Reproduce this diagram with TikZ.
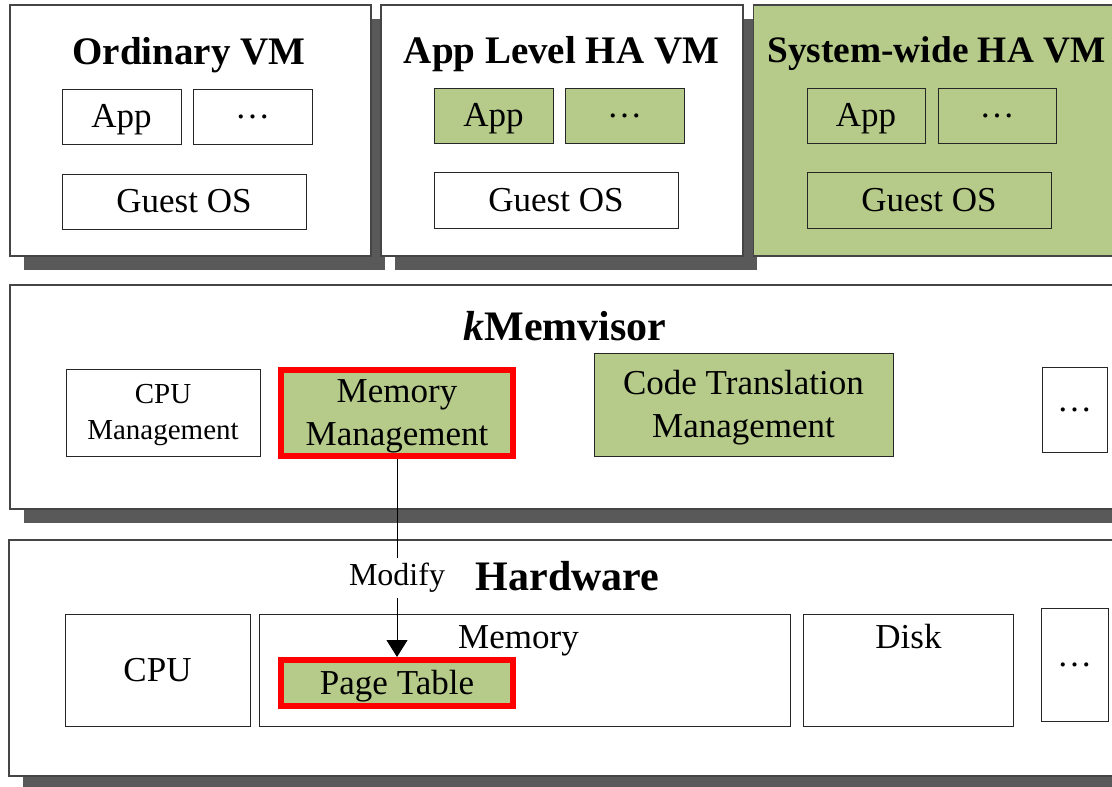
\documentclass[tikz,border=0pt]{standalone}
\usepackage{fontspec}
\setmainfont{Liberation Serif}
\usetikzlibrary{arrows.meta,shadows}
\newlength\pxu
\setlength\pxu{0.75pt}
\definecolor{hagreen}{HTML}{B6CB89}
\definecolor{shadowgray}{HTML}{595959}
\definecolor{framegray}{HTML}{454545}

\tikzset{
  layer/.style={draw=framegray, line width=1.3\pxu, fill=white, inner sep=0pt},
  deep/.style={drop shadow={shadow xshift=14\pxu, shadow yshift=-14\pxu, opacity=1, fill=shadowgray}},
  cell/.style={draw=black!85, line width=1\pxu, fill=white, inner sep=0pt,
               font=\fontsize{26.25}{32.25}\selectfont, align=center},
  oneline/.style={text height=23.6pt, text depth=6.6pt},
  ha/.style={fill=hagreen},
  hot/.style={cell, draw=red, line width=6\pxu, fill=hagreen},
  vmtitle/.style={font=\bfseries\fontsize{29.25}{35}\selectfont, anchor=base, inner sep=0pt},
  laytitle/.style={font=\bfseries\fontsize{31.5}{38}\selectfont, anchor=base, inner sep=0pt},
  plain/.style={font=\fontsize{26.25}{32.25}\selectfont, anchor=base, inner sep=0pt},
  link/.style={draw=black, line width=1\pxu},
}

\begin{document}
\begin{tikzpicture}[x=0.75pt, y=-0.75pt]
\useasboundingbox (0,0) rectangle (1112,786);
\clip (0,0) rectangle (1112,786);

% ---- virtual machines ----
\node[layer, deep, minimum width=361\pxu, minimum height=251\pxu] (vmA) at (190.5,130.5) {};
\node[vmtitle] (vmAtitle) at (189,64) {Ordinary VM};
\node[cell, oneline, minimum width=119\pxu, minimum height=55\pxu] (vmAapp) at (121.5,116.5) {App};
\node[cell, minimum width=119\pxu, minimum height=55\pxu] (vmAdots) at (252.5,116.5) {…};
\node[cell, oneline, minimum width=244\pxu, minimum height=55\pxu] (vmAos) at (184,201.5) {Guest OS};

\node[layer, deep, minimum width=362\pxu, minimum height=251\pxu] (vmB) at (562,130.5) {};
\node[vmtitle] (vmBtitle) at (561.5,63) {App Level HA VM};
\node[cell, oneline, ha, minimum width=119\pxu, minimum height=55\pxu] (vmBapp) at (493.5,115.5) {App};
\node[cell, ha, minimum width=119\pxu, minimum height=55\pxu] (vmBdots) at (624.5,115.5) {…};
\node[cell, oneline, minimum width=244\pxu, minimum height=56\pxu] (vmBos) at (556,200) {Guest OS};

\node[layer, ha, minimum width=362\pxu, minimum height=251\pxu] (vmC) at (934.5,130.5) {};
\node[vmtitle, font=\bfseries\fontsize{28}{34}\selectfont] (vmCtitle) at (936.5,62) {System-wide HA VM};
\node[cell, oneline, ha, minimum width=118\pxu, minimum height=55\pxu] (vmCapp) at (866,115.5) {App};
\node[cell, ha, minimum width=118\pxu, minimum height=55\pxu] (vmCdots) at (997,115.5) {…};
\node[cell, oneline, ha, minimum width=244\pxu, minimum height=56\pxu] (vmCos) at (929,200) {Guest OS};

% ---- hypervisor layer ----
\node[layer, deep, minimum width=1115\pxu, minimum height=224\pxu] (kmv) at (567.5,397) {};
\node[laytitle] (kmvtitle) at (565,340) {\textit{k}Memvisor};
\node[cell, font=\fontsize{21.75}{27}\selectfont, minimum width=194\pxu, minimum height=87\pxu] (cpumgmt) at (163,412.5) {\rule{0pt}{18.75pt}CPU\\Management};
\node[hot, minimum width=232\pxu, minimum height=86\pxu] (memmgmt) at (397,413) {\rule{0pt}{21.75pt}Memory\\Management};
\node[cell, ha, minimum width=299\pxu, minimum height=103\pxu] (ctm) at (743.5,404.5) {\rule{0pt}{22.5pt}Code Translation\\Management};
\node[cell, minimum width=65\pxu, minimum height=85\pxu] (kmvdots) at (1074.5,409.5) {…};

% ---- hardware layer ----
\node[layer, deep, minimum width=1116\pxu, minimum height=236\pxu] (hw) at (567,658) {};
\node[laytitle] (hwtitle) at (567.5,590) {Hardware};
\node[cell, oneline, minimum width=185\pxu, minimum height=112\pxu] (cpu) at (157.5,670) {CPU};
\node[cell, minimum width=531\pxu, minimum height=112\pxu] (mem) at (524.5,670) {};
\node[plain] (memtitle) at (518.5,648) {Memory};
\node[hot, oneline, minimum width=232\pxu, minimum height=46\pxu] (pt) at (397,683) {Page Table};
\node[cell, minimum width=210\pxu, minimum height=112\pxu] (disk) at (908,670) {};
\node[plain] (disktitle) at (908.5,648) {Disk};
\node[cell, minimum width=67\pxu, minimum height=113\pxu] (hwdots) at (1074.5,664.5) {…};

% ---- page table update path ----
\node[font=\fontsize{24}{28}\selectfont, inner sep=0pt, minimum height=40\pxu] (modify) at (397,578) {Modify};
\draw[link] (memmgmt) -- (modify);
\draw[link, -{Triangle[width=15.75pt, length=12.75pt]}] (modify) -- (pt);
\end{tikzpicture}
\end{document}
